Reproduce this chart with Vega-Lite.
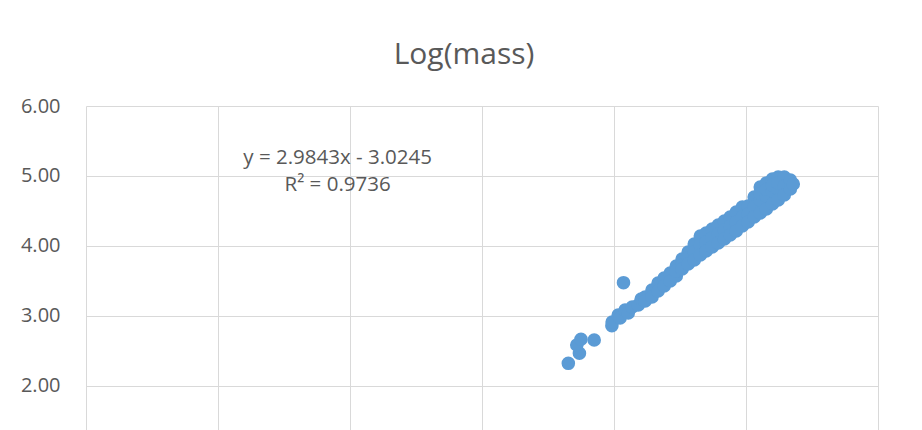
{
  "$schema": "https://vega.github.io/schema/vega-lite/v6.json",
  "autosize": "none",
  "padding": {"left": 86, "top": 106, "right": 44, "bottom": 0},
  "width": 792,
  "height": 324,
  "background": "white",
  "config": {"view": {"stroke": null}},
  "title": {
    "text": "Log(mass)",
    "font": "Open Sans",
    "fontSize": 30,
    "fontWeight": "normal",
    "color": "#595959",
    "anchor": "middle",
    "frame": "group",
    "dx": -18,
    "baseline": "alphabetic",
    "offset": 2
  },
  "datasets": {
    "points": [
      {"log_length": 1.827, "log_mass": 2.324},
      {"log_length": 1.869, "log_mass": 2.467},
      {"log_length": 1.859, "log_mass": 2.586},
      {"log_length": 1.875, "log_mass": 2.667},
      {"log_length": 1.925, "log_mass": 2.657},
      {"log_length": 1.992, "log_mass": 2.861},
      {"log_length": 1.993, "log_mass": 2.914},
      {"log_length": 2.036, "log_mass": 3.476},
      {"log_length": 2.016, "log_mass": 3.014},
      {"log_length": 2.023, "log_mass": 2.971},
      {"log_length": 2.042, "log_mass": 3.086},
      {"log_length": 2.054, "log_mass": 3.043},
      {"log_length": 2.069, "log_mass": 3.129},
      {"log_length": 2.092, "log_mass": 3.157},
      {"log_length": 2.103, "log_mass": 3.243},
      {"log_length": 2.118, "log_mass": 3.271},
      {"log_length": 2.118, "log_mass": 3.214},
      {"log_length": 2.144, "log_mass": 3.371},
      {"log_length": 2.144, "log_mass": 3.271},
      {"log_length": 2.167, "log_mass": 3.471},
      {"log_length": 2.167, "log_mass": 3.357},
      {"log_length": 2.19, "log_mass": 3.543},
      {"log_length": 2.19, "log_mass": 3.429},
      {"log_length": 2.213, "log_mass": 3.614},
      {"log_length": 2.213, "log_mass": 3.5},
      {"log_length": 2.236, "log_mass": 3.714},
      {"log_length": 2.236, "log_mass": 3.571},
      {"log_length": 2.236, "log_mass": 3.643},
      {"log_length": 2.258, "log_mass": 3.814},
      {"log_length": 2.258, "log_mass": 3.729},
      {"log_length": 2.258, "log_mass": 3.671},
      {"log_length": 2.281, "log_mass": 3.914},
      {"log_length": 2.281, "log_mass": 3.829},
      {"log_length": 2.281, "log_mass": 3.743},
      {"log_length": 2.304, "log_mass": 4.029},
      {"log_length": 2.304, "log_mass": 3.914},
      {"log_length": 2.304, "log_mass": 3.8},
      {"log_length": 2.327, "log_mass": 4.143},
      {"log_length": 2.327, "log_mass": 4.014},
      {"log_length": 2.327, "log_mass": 3.871},
      {"log_length": 2.349, "log_mass": 4.186},
      {"log_length": 2.349, "log_mass": 4.057},
      {"log_length": 2.349, "log_mass": 3.929},
      {"log_length": 2.372, "log_mass": 4.243},
      {"log_length": 2.372, "log_mass": 4.114},
      {"log_length": 2.372, "log_mass": 3.986},
      {"log_length": 2.395, "log_mass": 4.3},
      {"log_length": 2.395, "log_mass": 4.171},
      {"log_length": 2.395, "log_mass": 4.043},
      {"log_length": 2.418, "log_mass": 4.357},
      {"log_length": 2.418, "log_mass": 4.229},
      {"log_length": 2.418, "log_mass": 4.1},
      {"log_length": 2.44, "log_mass": 4.414},
      {"log_length": 2.44, "log_mass": 4.286},
      {"log_length": 2.44, "log_mass": 4.157},
      {"log_length": 2.463, "log_mass": 4.486},
      {"log_length": 2.463, "log_mass": 4.343},
      {"log_length": 2.463, "log_mass": 4.214},
      {"log_length": 2.486, "log_mass": 4.557},
      {"log_length": 2.486, "log_mass": 4.414},
      {"log_length": 2.486, "log_mass": 4.286},
      {"log_length": 2.508, "log_mass": 4.571},
      {"log_length": 2.508, "log_mass": 4.457},
      {"log_length": 2.508, "log_mass": 4.343},
      {"log_length": 2.531, "log_mass": 4.7},
      {"log_length": 2.531, "log_mass": 4.557},
      {"log_length": 2.531, "log_mass": 4.414},
      {"log_length": 2.554, "log_mass": 4.843},
      {"log_length": 2.554, "log_mass": 4.657},
      {"log_length": 2.554, "log_mass": 4.471},
      {"log_length": 2.554, "log_mass": 4.75},
      {"log_length": 2.577, "log_mass": 4.9},
      {"log_length": 2.577, "log_mass": 4.714},
      {"log_length": 2.577, "log_mass": 4.529},
      {"log_length": 2.577, "log_mass": 4.81},
      {"log_length": 2.6, "log_mass": 4.957},
      {"log_length": 2.6, "log_mass": 4.786},
      {"log_length": 2.6, "log_mass": 4.6},
      {"log_length": 2.6, "log_mass": 4.87},
      {"log_length": 2.622, "log_mass": 4.986},
      {"log_length": 2.622, "log_mass": 4.814},
      {"log_length": 2.622, "log_mass": 4.657},
      {"log_length": 2.622, "log_mass": 4.9},
      {"log_length": 2.645, "log_mass": 4.986},
      {"log_length": 2.645, "log_mass": 4.857},
      {"log_length": 2.645, "log_mass": 4.729},
      {"log_length": 2.668, "log_mass": 4.943},
      {"log_length": 2.668, "log_mass": 4.814},
      {"log_length": 2.679, "log_mass": 4.886}
    ],
    "trend": [
      {"label": "y = 2.9843x - 3.0245\nR² = 0.9736", "lx": 0.953, "ly": 5.171}
    ]
  },
  "layer": [
    {
      "data": {"name": "points"},
      "mark": {"type": "circle", "size": 185, "color": "#5b9bd5", "opacity": 1},
      "encoding": {
        "x": {
          "field": "log_length",
          "type": "quantitative",
          "scale": {"domain": [0, 3], "nice": false, "zero": false},
          "axis": {
            "title": null,
            "values": [0, 0.5, 1, 1.5, 2, 2.5, 3],
            "labels": false,
            "ticks": false,
            "domain": false,
            "grid": true,
            "gridColor": "#d9d9d9",
            "gridWidth": 1,
            "gridOpacity": 1
          }
        },
        "y": {
          "field": "log_mass",
          "type": "quantitative",
          "scale": {"domain": [1.3714, 6], "nice": false, "zero": false},
          "axis": {
            "title": null,
            "values": [2, 3, 4, 5, 6],
            "format": ".2f",
            "ticks": false,
            "domain": false,
            "grid": true,
            "gridColor": "#d9d9d9",
            "gridWidth": 1,
            "gridOpacity": 1,
            "labelFont": "Open Sans",
            "labelFontSize": 20,
            "labelColor": "#595959",
            "labelPadding": 26,
            "labelBaseline": "middle"
          }
        }
      }
    },
    {
      "data": {"name": "trend"},
      "mark": {
        "type": "text",
        "font": "Open Sans",
        "fontSize": 20.5,
        "color": "#595959",
        "align": "center",
        "baseline": "alphabetic",
        "lineBreak": "\n",
        "lineHeight": 27
      },
      "encoding": {
        "x": {"field": "lx", "type": "quantitative"},
        "y": {"field": "ly", "type": "quantitative"},
        "text": {"field": "label"}
      }
    }
  ]
}
